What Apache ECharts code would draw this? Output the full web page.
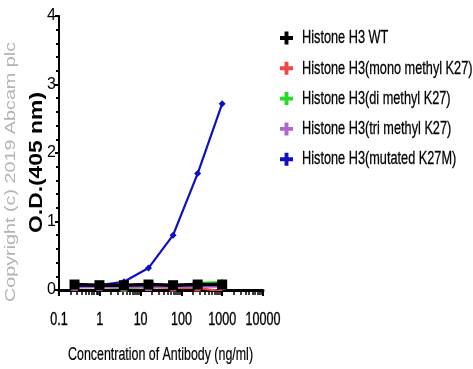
<!DOCTYPE html>
<html><head><meta charset="utf-8">
<script src="https://cdn.jsdelivr.net/npm/echarts@6/dist/echarts.min.js"></script>
<style>html,body{margin:0;padding:0;background:#fff}#c{width:473px;height:369px}</style>
</head><body><div id="c"></div>
<script>
const concentrations = [0.24, 0.98, 3.9, 15.6, 62.5, 250, 1000];
const seriesNames = ['Histone H3 WT','Histone H3(mono methyl K27)','Histone H3(di methyl K27)','Histone H3(tri methyl K27)','Histone H3(mutated K27M)'];
const wtValues = [0.08, 0.07, 0.07, 0.08, 0.07, 0.08, 0.08];
const monoValues = [0.04, 0.04, 0.03, 0.04, 0.03, 0.03, -0.02];
const diValues = [0.05, 0.05, 0.03, 0.05, 0.05, 0.1, 0.12];
const triValues = [0.04, 0.04, 0.04, 0.04, 0.04, 0.05, 0.05];
const mutValues = [0.06, 0.07, 0.12, 0.32, 0.80, 1.70, 2.72];
const xTickValues = [0.1, 1, 10, 100, 1000, 10000];
const xTickLabels = ['0.1','1','10','100','1000','10000'];
const yTickLabels = ['0','1','2','3','4'];
const xTitle = 'Concentration of Antibody (ng/ml)';
const yTitle = 'O.D.(405 nm)';
const watermark = 'Copyright (c) 2019 Abcam plc';

const colors = ['#000000','#f04848','#22dd22','#b066d0','#1010c0'];
const symbols = ['rect','triangle','triangle','triangle','diamond'];
const sizes = [10,7,7,7,7];
const valueSets = [wtValues, monoValues, diValues, triValues, mutValues];
const plus = 'path://M3.5,0 L6.5,0 L6.5,3.5 L10,3.5 L10,6.5 L6.5,6.5 L6.5,10 L3.5,10 L3.5,6.5 L0,6.5 L0,3.5 L3.5,3.5 Z';
const font = "'Liberation Sans',Arial,sans-serif";

const order = [1,2,3,0,4];
const series = order.map(i => ({
  name: seriesNames[i], type: 'line',
  data: concentrations.map((c,k)=>[c, valueSets[i][k]]),
  symbol: symbols[i], symbolSize: sizes[i],
  itemStyle: {color: colors[i]},
  lineStyle: {color: colors[i], width: i===0 ? 3.5 : 2.2},
  z: i===4 ? 4 : (i===0 ? 5 : 3)
}));

const legendTop = 38, legendStep = 30.3;

const chart = echarts.init(document.getElementById('c'), null, {renderer:'canvas'});
chart.setOption({
  animation:false,
  grid:{left:59, top:16, width:204, height:274},
  legend:{
    orient:'vertical', left:280, top:legendTop-6.5, itemGap:legendStep-13, itemWidth:13, itemHeight:13,
    icon: plus, padding:0,
    formatter:()=>'',
    data: seriesNames.map((n,i)=>({name:n, itemStyle:{color:colors[i]}})),
    textStyle:{fontSize:12, lineHeight:13, padding:0}
  },
  xAxis:{
    type:'log', logBase:10, min:0.1, max:10000,
    axisLine:{onZero:false, lineStyle:{color:'#000', width:3}},
    axisTick:{show:true, inside:false, length:6, lineStyle:{color:'#000', width:2}},
    minorTick:{show:true, splitNumber:10, length:5, lineStyle:{color:'#000', width:1.5}},
    splitLine:{show:false},
    axisLabel:{show:false}
  },
  yAxis:{
    type:'value', min:0, max:4, interval:1,
    axisLine:{lineStyle:{color:'#000', width:2}},
    axisTick:{show:true, length:4, lineStyle:{color:'#000', width:2}},
    minorTick:{show:true, splitNumber:5, length:3, lineStyle:{color:'#000', width:2}},
    splitLine:{show:false},
    axisLabel:{fontFamily:font, fontSize:16, color:'#000', margin:3,
      formatter:(v)=>yTickLabels[Math.round(v)]}
  },
  series: series
});

const legendTexts = seriesNames.map((n,i)=>({
  type:'text', x:302, y:legendTop + legendStep*i, scaleX:0.67,
  style:{text:n, font:"19px "+font, fill:'#000', stroke:'#000', lineWidth:0.3, verticalAlign:'middle'}
}));
const xLabels = xTickValues.map((v,i)=>({
  type:'text', x:chart.convertToPixel({xAxisIndex:0}, v), y:320, scaleX:0.66,
  style:{text:xTickLabels[i], font:"19px "+font, fill:'#000', stroke:'#000', lineWidth:0.4, align:'center', verticalAlign:'middle'}
}));
chart.setOption({
  graphic:[
    {type:'text', x:4, y:302, rotation:Math.PI/2, scaleX:1.41,
      style:{text:watermark, font:"14px "+font, fill:'#b4b4b4'}},
    {type:'text', x:28, y:233, rotation:Math.PI/2, scaleX:1.27,
      style:{text:yTitle, font:"bold 18px "+font, fill:'#000'}},
    {type:'text', x:68, y:355, scaleX:0.69,
      style:{text:xTitle, font:"18px "+font, fill:'#000', stroke:'#000', lineWidth:0.2, verticalAlign:'middle'}}
  ].concat(legendTexts, xLabels)
});
</script></body></html>
